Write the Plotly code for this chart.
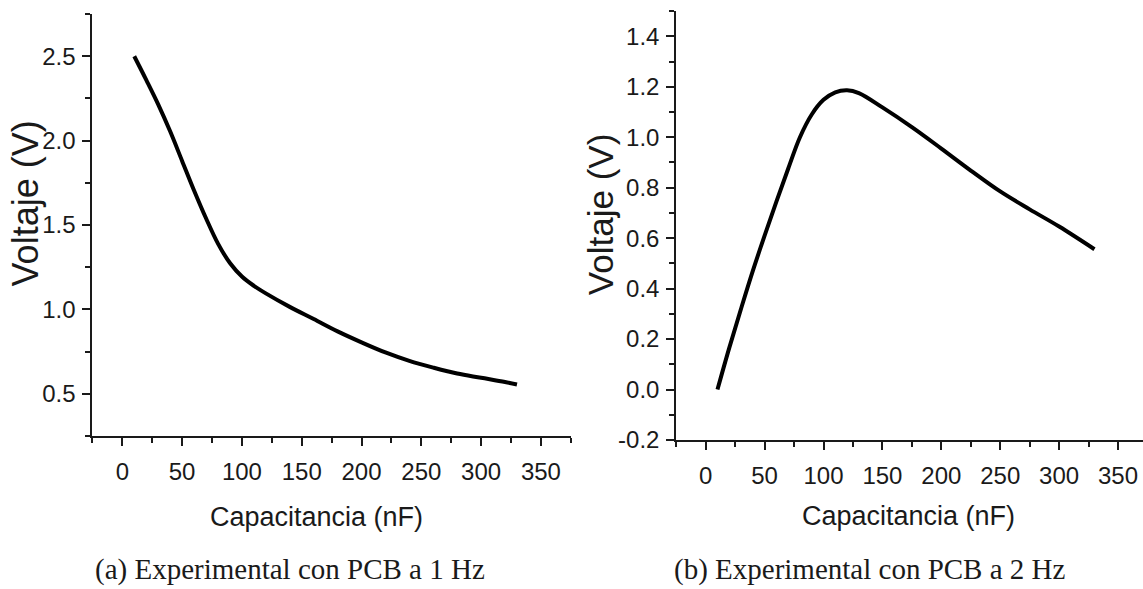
import plotly.graph_objects as go

# ---- data ----
cap_a = [10, 20, 30, 40, 50, 60, 70, 80, 90, 100, 110, 120, 140, 160, 180, 200, 220, 240, 260, 280, 300, 320, 330]
volt_a = [2.50, 2.36, 2.215, 2.055, 1.88, 1.705, 1.54, 1.39, 1.275, 1.195, 1.14, 1.095, 1.015, 0.943, 0.87, 0.805, 0.745, 0.695, 0.655, 0.62, 0.595, 0.57, 0.555]

cap_b = [10, 20, 30, 40, 50, 60, 70, 80, 90, 100, 110, 120, 130, 150, 175, 200, 225, 250, 275, 300, 330]
volt_b = [0.00, 0.165, 0.32, 0.47, 0.61, 0.745, 0.875, 1.0, 1.09, 1.148, 1.178, 1.186, 1.175, 1.118, 1.04, 0.955, 0.868, 0.785, 0.714, 0.646, 0.556]

x_ticks = [0, 50, 100, 150, 200, 250, 300, 350]
ya_ticks = [0.5, 1.0, 1.5, 2.0, 2.5]
ya_labels = ["0.5", "1.0", "1.5", "2.0", "2.5"]
yb_ticks = [-0.2, 0.0, 0.2, 0.4, 0.6, 0.8, 1.0, 1.2, 1.4]
yb_labels = ["-0.2", "0.0", "0.2", "0.4", "0.6", "0.8", "1.0", "1.2", "1.4"]

x_title = "Capacitancia (nF)"
y_title = "Voltaje (V)"
cap_a_text = "(a) Experimental con PCB a 1 Hz"
cap_b_text = "(b) Experimental con PCB a 2 Hz"

W, H = 1143, 589
SANS = "Liberation Sans, Arial, sans-serif"
SERIF = "Liberation Serif, Times New Roman, serif"
INK = "#1a1a1a"

fig = go.Figure()
fig.add_trace(go.Scatter(x=cap_a, y=volt_a, mode="lines", line=dict(color="black", width=4, shape="spline", smoothing=1.0),
                         xaxis="x", yaxis="y", showlegend=False))
fig.add_trace(go.Scatter(x=cap_b, y=volt_b, mode="lines", line=dict(color="black", width=4, shape="spline", smoothing=1.0),
                         xaxis="x2", yaxis="y2", showlegend=False))

def ax_common(minor_dtick, standoff):
    return dict(showline=True, linecolor=INK, linewidth=2, showgrid=False, zeroline=False,
                ticks="outside", ticklen=8, tickwidth=1.5, tickcolor=INK,
                ticklabelstandoff=standoff,
                tickfont=dict(family=SANS, size=24, color=INK),
                minor=dict(ticks="outside", ticklen=5, tickwidth=1.5, tickcolor=INK, dtick=minor_dtick, showgrid=False))

fig.update_layout(
    width=W, height=H, margin=dict(l=0, r=0, t=0, b=0),
    paper_bgcolor="white", plot_bgcolor="white",
    xaxis=dict(domain=[92.4 / W, 570.8 / W], range=[-25, 375], tickvals=x_ticks, anchor="y",
               **ax_common(25, 5)),
    yaxis=dict(domain=[1 - 445.85 / H, 1 - 14.35 / H], range=[0.25, 2.75], tickvals=ya_ticks,
               ticktext=ya_labels, anchor="x", **ax_common(0.25, 2)),
    xaxis2=dict(domain=[676.25 / W, 1.0], range=[-25, 371.2], tickvals=x_ticks, anchor="y2",
                **ax_common(25, 5)),
    yaxis2=dict(domain=[1 - 449.9 / H, 1 - 11.3 / H], range=[-0.2, 1.5], tickvals=yb_ticks,
                ticktext=yb_labels, anchor="x2", **ax_common(0.1, 2)),
)

def note(text, px, py, size, family, angle=0):
    fig.add_annotation(text=text, x=px / W, y=1 - py / H, xref="paper", yref="paper",
                       xanchor="center", yanchor="middle", showarrow=False, textangle=angle,
                       font=dict(family=family, size=size, color=INK))

note(y_title, 25, 208, 36, SANS, -90)
note(y_title, 600, 220, 35, SANS, -90)
note(x_title, 316, 529, 27, SANS)
note(x_title, 908, 528, 27, SANS)
note(cap_a_text, 290, 582, 29, SERIF)
note(cap_b_text, 870, 582, 29, SERIF)

fig.write_html("out.html")
